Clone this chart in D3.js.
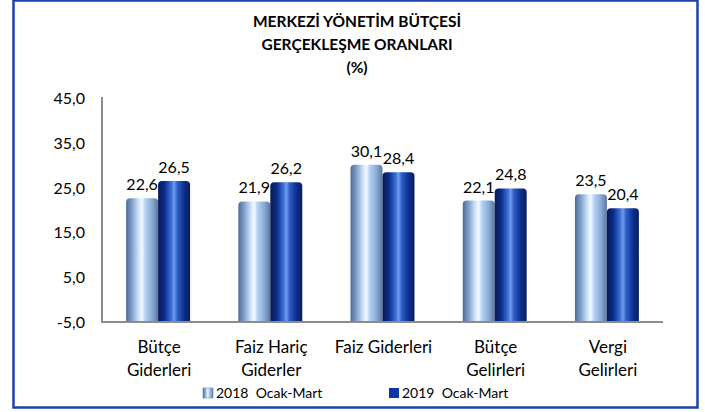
<!DOCTYPE html>
<html>
<head>
<meta charset="utf-8">
<script src="https://cdn.jsdelivr.net/npm/d3@7"></script>
<style>
  body { margin: 0; background: #fff; }
  svg { display: block; font-family: Lato, "Open Sans", sans-serif; }
</style>
</head>
<body>
<div id="chart"></div>
<script>
const categories = [
  ["Bütçe", "Giderleri"],
  ["Faiz Hariç", "Giderler"],
  ["Faiz Giderleri"],
  ["Bütçe", "Gelirleri"],
  ["Vergi", "Gelirleri"]
];
const seriesNames = ["2018  Ocak-Mart", "2019  Ocak-Mart"];
const values2018 = [22.6, 21.9, 30.1, 22.1, 23.5];
const values2019 = [26.5, 26.2, 28.4, 24.8, 20.4];
const yTicks = [-5, 5, 15, 25, 35, 45];
const titleLines = ["MERKEZİ YÖNETİM BÜTÇESİ", "GERÇEKLEŞME ORANLARI", "(%)"];

const width = 705,
  height = 412;
const svg = d3.select("#chart").append("svg").attr("width", width).attr("height", height);

const fmt = v => d3.format(".1f")(v).replace(".", ",").replace("−", "-");

// cylinder-like gradients
const defs = svg.append("defs");
const gradients = [
  {
    id: "g2018",
    stops: [
      [0, "#4d6a93"], [0.18, "#7f9fcb"], [0.42, "#d9ecff"], [0.5, "#f2f9ff"],
      [0.6, "#b4d2f5"], [0.82, "#88a9d4"], [1, "#5a779f"]
    ]
  },
  {
    id: "g2019",
    stops: [
      [0, "#061a55"], [0.2, "#0b2c88"], [0.42, "#3f72d8"], [0.5, "#6f9cf0"],
      [0.6, "#2f5fc6"], [0.82, "#0c2e8c"], [1, "#071d5e"]
    ]
  }
];
gradients.forEach(g => {
  const lg = defs.append("linearGradient").attr("id", g.id).attr("x1", "0%").attr("x2", "100%").attr("y1", "0%").attr("y2", "0%");
  lg.selectAll("stop")
    .data(g.stops)
    .join("stop")
    .attr("offset", d => d[0])
    .attr("stop-color", d => d[1]);
});

// frame
svg.append("rect")
  .attr("x", 13.5)
  .attr("y", 0.5)
  .attr("width", 684)
  .attr("height", 407)
  .attr("fill", "none")
  .attr("stroke", "#1c44a6")
  .attr("stroke-width", 2.5);

// title
svg.append("g")
  .selectAll("text")
  .data(titleLines)
  .join("text")
  .attr("x", 357)
  .attr("y", (d, i) => 27 + i * 23)
  .attr("text-anchor", "middle")
  .attr("font-weight", "bold")
  .attr("font-size", "15.5px")
  .attr("fill", "#000")
  .text(d => d);

const x = d3.scaleBand()
  .domain(d3.range(categories.length))
  .range([102, 663])
  .paddingInner(0.43)
  .paddingOuter(0.215);
const xs = d3.scaleBand().domain([0, 1]).range([0, x.bandwidth()]);
const y = d3.scaleLinear().domain([-5, 45]).range([322, 98]);

// y tick labels
svg.append("g")
  .selectAll("text")
  .data(yTicks)
  .join("text")
  .attr("x", 85)
  .attr("y", d => y(d) + 6)
  .attr("text-anchor", "end")
  .attr("font-size", "16px")
  .attr("fill", "#000")
  .text(d => fmt(d));

// bars
const data = [];
categories.forEach((c, i) => {
  data.push({ cat: i, s: 0, v: values2018[i] });
  data.push({ cat: i, s: 1, v: values2019[i] });
});

const barPath = d => {
  const x0 = x(d.cat) + xs(d.s),
    w = xs.bandwidth(),
    y0 = y(-5),
    y1 = y(d.v),
    r = 4;
  return `M${x0},${y0}V${y1 + r}Q${x0},${y1} ${x0 + r},${y1}H${x0 + w - r}Q${x0 + w},${y1} ${x0 + w},${y1 + r}V${y0}Z`;
};

svg.append("g")
  .selectAll("path")
  .data(data)
  .join("path")
  .attr("d", barPath)
  .attr("fill", d => (d.s === 0 ? "url(#g2018)" : "url(#g2019)"));

// value labels
svg.append("g")
  .selectAll("text")
  .data(data)
  .join("text")
  .attr("x", d => x(d.cat) + xs(d.s) + xs.bandwidth() / 2)
  .attr("y", d => y(d.v) - 8)
  .attr("text-anchor", "middle")
  .attr("font-size", "16px")
  .attr("fill", "#000")
  .text(d => fmt(d.v));

// axes lines
svg.append("line")
  .attr("x1", 102).attr("x2", 102)
  .attr("y1", y(45) - 1).attr("y2", y(-5))
  .attr("stroke", "#8c8c8c").attr("stroke-width", 2);
svg.append("line")
  .attr("x1", 101).attr("x2", 663)
  .attr("y1", y(-5)).attr("y2", y(-5))
  .attr("stroke", "#8c8c8c").attr("stroke-width", 2);

// category labels
const catG = svg.append("g")
  .selectAll("text")
  .data(categories)
  .join("text")
  .attr("text-anchor", "middle")
  .attr("font-size", "17px")
  .attr("fill", "#000")
  .attr("transform", (d, i) => `translate(${x(i) + x.bandwidth() / 2 + 1},353)`);
catG.selectAll("tspan")
  .data(d => d)
  .join("tspan")
  .attr("x", 0)
  .attr("y", (d, i) => i * 23)
  .text(d => d);

// legend
const legendX = [203, 389];
const legendFill = ["url(#g2018)", "#0a36a5"];
const legend = svg.append("g")
  .selectAll("g")
  .data(seriesNames)
  .join("g")
  .attr("transform", (d, i) => `translate(${legendX[i]},388)`);
legend.append("rect")
  .attr("width", 10)
  .attr("height", 10)
  .attr("fill", (d, i) => legendFill[i])
  .attr("stroke", (d, i) => (i === 0 ? "#6d86a8" : "none"))
  .attr("stroke-width", 0.6);
legend.append("text")
  .attr("x", 13)
  .attr("y", 10)
  .attr("font-size", "14px")
  .attr("fill", "#000")
  .attr("xml:space", "preserve")
  .style("white-space", "pre")
  .text(d => d);
</script>
</body>
</html>
